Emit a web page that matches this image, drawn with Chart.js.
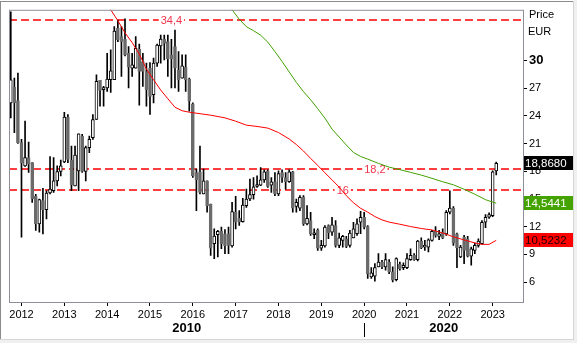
<!DOCTYPE html>
<html>
<head>
<meta charset="utf-8">
<script src="https://cdn.jsdelivr.net/npm/chart.js@4.4.1/dist/chart.umd.min.js"></script>
<style>
  html, body { margin: 0; padding: 0; background: #ffffff; }
  #wrap { width: 577px; height: 343px; position: relative; }
</style>
</head>
<body>
<div id="wrap"><canvas id="chart" width="577" height="343"></canvas></div>
<script>
// Monthly candles, October 2011 onwards; the axis runs on to September 2023.
const firstYear = 2011;
const firstMonth = 9;          // 0-based: October
const monthCount = 144;

const open = [
  25.40, 27.13, 25.66, 21.10, 18.59, 19.49, 18.95, 15.29, 12.31, 14.82,
  13.85, 15.65, 15.90, 16.97, 17.98, 19.02, 23.86, 19.23, 16.43, 18.05,
  21.82, 17.98, 20.56, 21.64, 23.61, 27.85, 26.84, 27.02, 27.92, 27.92,
  33.48, 32.58, 32.30, 30.79, 29.17, 29.17, 31.22, 29.89, 28.81, 29.17,
  26.30, 29.71, 31.58, 32.33, 32.04, 30.61, 31.51, 28.99, 28.10, 29.25,
  27.99, 25.30, 17.87, 17.94, 15.54, 16.97, 14.46, 10.16, 11.13, 11.49,
  11.24, 11.24,  9.91, 13.57, 12.92, 12.56, 14.28, 15.00, 15.47, 16.36,
  16.51, 17.08, 18.05, 16.51, 16.87, 15.54, 17.87, 17.33, 16.87, 17.94,
  14.21, 14.00, 15.18, 12.31, 12.67, 11.13, 11.60,  9.69,  9.91, 12.13,
  11.41, 12.13,  9.98, 10.52, 10.70,  9.98, 10.80, 11.24, 12.49, 13.03,
  12.02,  6.57,  6.64,  7.65,  8.18,  7.65,  8.18,  7.11,  6.28,  7.93,
   7.58,  7.58,  8.44,  8.90,  8.44, 10.45,  9.80,  9.80, 10.52, 11.49,
  10.95, 11.41, 11.23, 13.57, 14.03, 11.23,  8.72, 10.88, 10.70,  8.80,
   9.44,  9.98, 10.16, 12.49, 13.03, 13.20, 18.05
];
const high = [
  35.27, 28.10, 28.63, 21.46, 23.43, 21.17, 18.95, 15.50, 15.00, 16.15,
  15.90, 19.59, 19.49, 18.59, 19.23, 24.40, 24.15, 20.74, 20.74, 22.07,
  22.00, 20.74, 21.82, 24.15, 28.46, 27.85, 27.20, 30.79, 31.15, 33.66,
  34.37, 33.66, 34.50, 31.50, 30.79, 32.58, 31.79, 30.79, 29.71, 29.78,
  30.25, 31.79, 32.76, 32.76, 32.76, 32.30, 33.30, 30.97, 30.61, 30.61,
  28.10, 25.41, 18.23, 20.74, 18.23, 16.97, 14.46, 11.77, 11.60, 11.95,
  11.70, 11.95, 14.64, 15.29, 13.75, 15.07, 16.08, 17.15, 17.33, 17.51,
  18.41, 18.16, 18.16, 17.33, 17.87, 18.05, 18.16, 17.87, 18.16, 18.01,
  15.00, 15.36, 15.36, 14.28, 13.57, 11.77, 11.77, 10.52, 12.13, 12.20,
  13.03, 12.67, 11.31, 11.06, 10.95, 11.60, 12.49, 12.85, 13.68, 13.57,
  12.13,  7.58,  8.00,  9.08,  8.36,  9.08,  8.44,  7.65,  8.62,  8.18,
   8.08,  9.08,  9.62,  9.08, 10.52, 10.80, 10.52, 10.70, 11.60, 12.02,
  11.60, 11.77, 13.75, 15.90, 14.18, 11.31,  9.98, 11.06, 10.95,  9.80,
  10.23, 10.70, 12.67, 13.32, 13.50, 18.05, 19.00
];
const low = [
  23.79, 22.18, 21.03, 10.87, 18.52, 17.87, 14.64, 11.59, 11.41, 11.23,
  12.85, 15.55, 15.72, 16.43, 17.51, 18.95, 18.95, 15.90, 16.43, 15.90,
  17.87, 16.97, 20.02, 21.46, 23.61, 25.05, 25.05, 26.66, 26.55, 27.92,
  32.04, 28.27, 30.50, 27.02, 28.27, 29.17, 25.15, 27.20, 25.05, 24.15,
  25.40, 29.35, 29.71, 30.07, 28.27, 27.02, 27.02, 26.66, 28.10, 26.66,
  24.51, 17.33, 13.75, 15.54, 15.54, 13.57,  8.90,  8.54,  8.72,  9.62,
   9.08,  9.08,  9.80, 11.77, 12.13, 12.49, 14.10, 14.82, 14.99, 16.26,
  16.44, 16.80, 16.26, 15.72, 15.36, 15.36, 16.80, 16.08, 16.80, 13.57,
  13.57, 13.75, 12.13, 12.20, 11.06, 10.70,  9.44,  9.44,  9.80, 10.70,
  11.06,  9.80,  9.73,  9.80,  9.73,  9.80, 10.80, 11.06, 11.24, 11.77,
   6.39,  6.39,  6.10,  7.65,  7.47,  7.29,  6.93,  6.03,  6.14,  7.29,
   7.36,  7.47,  8.36,  8.36,  8.29,  9.62,  9.44,  9.26, 10.45, 10.88,
  10.59, 10.70, 11.06, 13.39,  9.98,  7.58,  8.65,  8.00,  8.72,  7.83,
   9.08,  9.80, 10.10, 11.90, 12.90, 13.10, 17.60
];
const close = [
  27.92, 25.40, 21.10, 18.87, 19.49, 18.77, 15.00, 12.31, 14.93, 13.85,
  15.65, 16.08, 16.97, 17.98, 18.59, 23.86, 19.30, 16.54, 19.77, 22.07,
  17.98, 20.56, 21.46, 23.61, 27.74, 26.77, 27.02, 27.99, 28.89, 33.19,
  32.22, 32.04, 30.60, 29.28, 29.53, 31.33, 28.81, 28.81, 26.84, 26.12,
  29.71, 31.68, 32.33, 31.86, 30.18, 30.18, 29.17, 27.92, 29.43, 27.92,
  25.59, 17.51, 17.08, 15.72, 16.97, 14.28,  9.69, 10.98, 11.49, 10.16,
   9.91,  9.98, 13.64, 12.49, 12.49, 14.35, 15.00, 15.47, 16.33, 16.54,
  17.08, 17.94, 16.36, 16.87, 15.54, 17.76, 17.33, 16.87, 17.94, 14.00,
  14.64, 15.18, 12.31, 12.92, 11.24, 11.31,  9.69,  9.98, 11.95, 11.34,
  12.20,  9.98, 10.80, 10.95,  9.87, 11.31, 11.77, 12.31, 13.03, 11.95,
   6.93,  7.00,  7.58,  8.18,  7.65,  8.44,  7.11,  6.21,  8.54,  7.47,
   7.83,  8.54,  8.90,  8.44, 10.45,  9.73,  9.98, 10.59, 11.49, 11.06,
  11.24, 10.80, 13.57, 14.03, 10.23,  9.73,  9.80,  9.44,  8.80,  9.62,
   9.98, 10.45, 12.49, 13.03, 13.32, 17.95, 18.868
];

// Moving averages, given at the months where they were read (month index -> value)
const redMaAt = [26, 28, 30, 32, 34, 36, 38, 40, 42, 44, 46, 48, 50, 53, 56, 60, 63, 66, 69, 72,
                 75, 78, 80, 82, 84, 86, 88, 90, 92, 94, 96, 98, 100, 102, 104, 106, 109, 112, 115, 118,
                 121, 124, 127, 130, 132, 134, 136];
const redMaValue = [36.7, 35.49, 34.31, 33.0, 31.94, 30.7, 29.07, 27.92, 26.8, 25.86,
                    24.94, 24.56, 24.4, 24.24, 24.08, 23.79, 23.43, 23.0, 22.86, 22.68,
                    22.2, 21.5, 20.9, 20.2, 19.4, 18.64, 17.84, 17.08, 16.28, 15.36,
                    14.6, 14.0, 13.58, 13.1, 12.74, 12.5, 12.27, 12.02, 11.81, 11.65,
                    11.32, 10.91, 10.57, 10.25, 10.09, 10.09, 10.5232];
const greenMaAt = [60, 62, 64, 66, 68, 70, 72, 74, 76, 78, 80, 82, 84, 86, 88, 90, 92, 94, 96, 98,
                   100, 103, 106, 109, 112, 115, 118, 121, 124, 127, 130, 133, 136];
const greenMaValue = [36.46, 35.49, 34.47, 33.66, 33.23, 32.74, 31.99, 30.97, 29.89, 28.76,
                      27.63, 26.63, 25.75, 24.78, 23.76, 22.57, 21.71, 20.85, 20.04, 19.61,
                      19.32, 18.86, 18.45, 18.18, 17.89, 17.59, 17.24, 16.87, 16.54, 16.06,
                      15.52, 14.93, 14.5441];

// Horizontal levels, and the month each level's label sits over
const levels = [34.4, 18.2, 16];
const levelLabelAt = [45, 102, 93];

const priceTicks = [6, 9, 12, 15, 18, 21, 24, 27, 30];
const decades = ['2010', '2020'];

const FONT = '"Liberation Sans", Arial, sans-serif';
const fmt = (v, d) => (d === undefined ? String(v) : v.toFixed(d)).replace('.', ',');

const labels = [];
for (let k = 0; k < monthCount; k++) {
  const m = (firstMonth + k) % 12;
  const y = firstYear + Math.floor((firstMonth + k) / 12);
  labels.push(y + '-' + String(m + 1).padStart(2, '0'));
}
const isJanuary = i => labels[i] && labels[i].endsWith('-01');

function sparse(at, values) {
  const arr = new Array(monthCount).fill(null);
  at.forEach((k, i) => { arr[k] = values[i]; });
  return arr;
}

const last = close.length - 1;
const isUp = i => close[i] >= open[i];
const bodyGray = '#6b6b6b';

const annotations = {
  id: 'annotations',
  beforeDraw(chart) {
    const c = chart.ctx, W = chart.width, H = chart.height;
    c.save();
    c.fillStyle = '#ffffff';
    c.fillRect(0, 0, W, H);
    c.fillStyle = '#f0f0f0';
    c.fillRect(0, H - 3, W, 3);
    c.fillRect(W - 3, 0, 3, H);
    c.fillStyle = '#8c8c8c';
    c.fillRect(0, 1, W - 3, 1);
    c.fillRect(0, 1, 1, H - 4);
    c.fillStyle = '#d6d6d6';
    c.fillRect(0, H - 4, W - 3, 1);
    c.fillRect(W - 4, 1, 1, H - 4);
    c.restore();
  },
  beforeDatasetsDraw(chart) {
    const { ctx: c, chartArea: a, scales: { x, y } } = chart;
    c.save();
    c.beginPath();
    c.rect(a.left, a.top, a.right - a.left, a.bottom - a.top);
    c.clip();
    c.strokeStyle = '#ff0000';
    c.lineWidth = 1.6;
    c.setLineDash([8, 4]);
    levels.forEach(v => {
      const py = Math.round(y.getPixelForValue(v));
      c.beginPath();
      c.moveTo(a.left, py);
      c.lineTo(a.right, py);
      c.stroke();
    });
    c.setLineDash([]);
    c.font = '11px ' + FONT;
    c.textAlign = 'center';
    c.textBaseline = 'middle';
    levels.forEach((v, i) => {
      const px = x.getPixelForValue(levelLabelAt[i]);
      const py = Math.round(y.getPixelForValue(v));
      const t = fmt(v);
      const w = c.measureText(t).width + 4;
      c.fillStyle = '#ffffff';
      c.fillRect(px - w / 2, py - 4, w, 8);
      c.fillStyle = '#f0344a';
      c.fillText(t, px, py + 1);
    });
    c.restore();
  },
  afterDraw(chart) {
    const { ctx: c, chartArea: a, scales: { x, y } } = chart;
    c.save();
    // plot frame
    c.strokeStyle = '#8e8e98';
    c.lineWidth = 1;
    c.strokeRect(a.left + 0.5, a.top + 0.5, a.right - a.left, a.bottom - a.top);

    // axis caption
    c.fillStyle = '#000000';
    c.font = '11px ' + FONT;
    c.textAlign = 'left';
    c.textBaseline = 'middle';
    c.fillText('Price', a.right + 6, 15);
    c.fillText('EUR', a.right + 5, 31.5);

    // last-value boxes
    const boxes = [
      { v: close[last], text: fmt(close[last], 4), bg: '#000000', fg: '#ffffff' },
      { v: greenMaValue[greenMaValue.length - 1], text: fmt(greenMaValue[greenMaValue.length - 1], 4), bg: '#44a300', fg: '#ffffff' },
      { v: redMaValue[redMaValue.length - 1], text: fmt(redMaValue[redMaValue.length - 1], 4), bg: '#ff0000', fg: '#1a0000' }
    ];
    boxes.forEach(b => {
      const py = Math.round(y.getPixelForValue(b.v));
      c.fillStyle = b.bg;
      c.fillRect(a.right + 1, py - 7, 49, 14);
      c.fillStyle = b.fg;
      c.font = '11.5px ' + FONT;
      c.fillText(b.text, a.right + 2, py + 0.5);
    });

    // decade captions under the year axis
    const split = labels.indexOf(decades[1] + '-01');
    const xs = Math.round(x.getPixelForValue(split)) + 0.5;
    c.strokeStyle = '#000000';
    c.beginPath();
    c.moveTo(xs, 323);
    c.lineTo(xs, 337);
    c.stroke();
    c.font = 'bold 13px ' + FONT;
    c.textAlign = 'center';
    c.fillStyle = '#000000';
    c.fillText(decades[0], (a.left + xs) / 2, 328);
    c.fillText(decades[1], (xs + a.right) / 2, 328);
    c.restore();
  }
};

new Chart(document.getElementById('chart'), {
  type: 'bar',
  data: {
    labels,
    datasets: [
      {
        label: 'MA red',
        type: 'line',
        data: sparse(redMaAt, redMaValue),
        borderColor: '#ff0000',
        borderWidth: 1,
        pointRadius: 0,
        spanGaps: true,
        tension: 0,
        clip: 0,
        order: 0
      },
      {
        label: 'MA green',
        type: 'line',
        data: sparse(greenMaAt, greenMaValue),
        borderColor: '#43a000',
        borderWidth: 1,
        pointRadius: 0,
        spanGaps: true,
        tension: 0,
        clip: 0,
        order: 0
      },
      {
        label: 'Body',
        data: open.map((o, i) => [o, close[i]]),
        backgroundColor: ctx => isUp(ctx.dataIndex) ? '#ffffff' : bodyGray,
        borderColor: ctx => isUp(ctx.dataIndex) ? '#000000' : bodyGray,
        borderWidth: 1,
        borderSkipped: false,
        barThickness: 3,
        minBarLength: 2,
        grouped: false,
        order: 1
      },
      {
        label: 'Range',
        data: low.map((l, i) => [l, high[i]]),
        backgroundColor: '#000000',
        borderWidth: 0,
        barThickness: 1,
        grouped: false,
        order: 2
      }
    ]
  },
  options: {
    responsive: false,
    animation: false,
    devicePixelRatio: 1,
    layout: { padding: { left: 9, top: 8, right: 0, bottom: 0 } },
    plugins: { legend: { display: false }, tooltip: { enabled: false } },
    scales: {
      x: {
        type: 'category',
        offset: true,
        border: { display: false },
        grid: {
          display: true,
          offset: false,
          drawOnChartArea: false,
          drawTicks: true,
          tickLength: 4,
          color: ctx => isJanuary(ctx.index) ? '#000000' : 'rgba(0,0,0,0)'
        },
        ticks: {
          autoSkip: false,
          maxRotation: 0,
          minRotation: 0,
          padding: 2,
          color: '#000000',
          font: { family: FONT, size: 11 },
          callback: (v, i) => isJanuary(i) ? labels[i].slice(0, 4) : ''
        },
        afterFit: s => { s.height = 41; }
      },
      y: {
        type: 'linear',
        position: 'right',
        min: 3.85,
        max: 35.49,
        afterBuildTicks: s => { s.ticks = priceTicks.map(v => ({ value: v })); },
        border: { display: false },
        grid: { drawOnChartArea: false, drawTicks: true, tickLength: 4, color: '#000000' },
        ticks: {
          padding: 2,
          color: '#000000',
          font: ctx => (ctx.tick && ctx.tick.value === 30)
            ? { family: FONT, size: 13, weight: 'bold' }
            : { family: FONT, size: 11 },
          callback: v => String(v)
        },
        afterFit: s => { s.width = 54; }
      }
    }
  },
  plugins: [annotations]
});
</script>
</body>
</html>
